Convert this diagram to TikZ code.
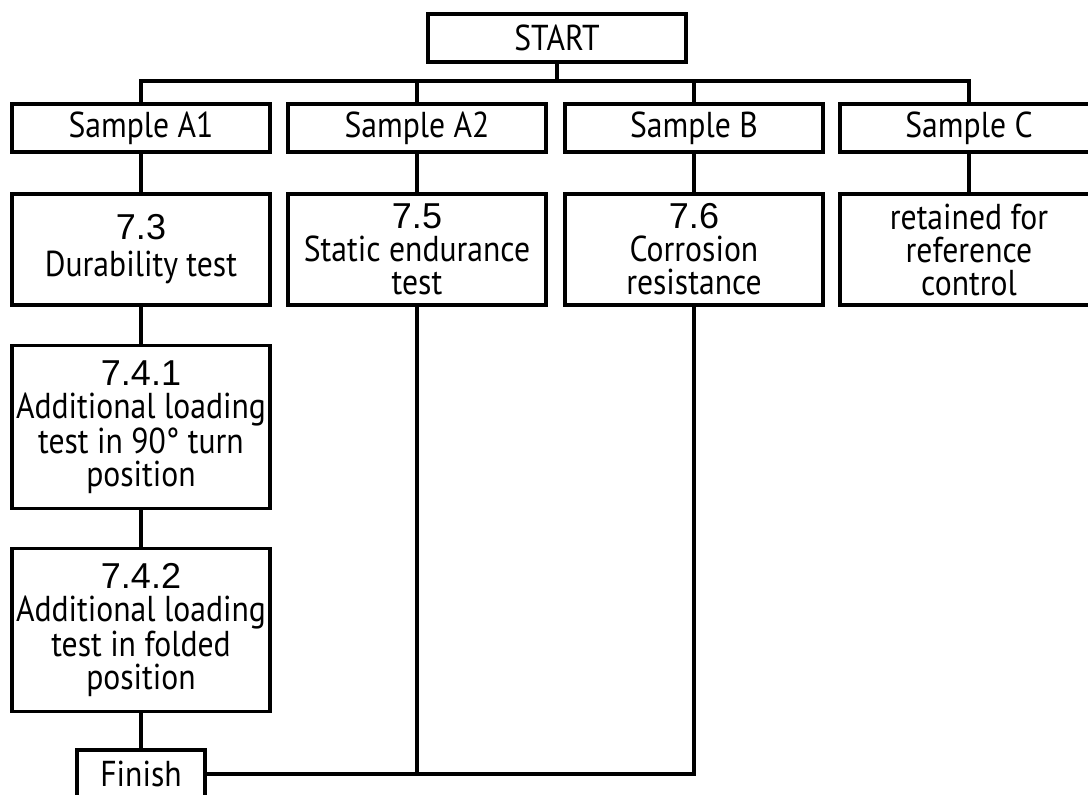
\documentclass[tikz,border=0pt]{standalone}
\usepackage{fontspec}
\setmainfont[FakeStretch=0.88]{PT Sans}
\newfontfamily\numfont{Liberation Sans}
\newcommand{\txtsize}{\fontsize{18}{16.5}\selectfont}
\newcommand{\nr}[1]{{\numfont\fontsize{18}{17}\selectfont #1}}

\begin{document}
\begin{tikzpicture}[x=0.5pt,y=-0.5pt,
  box/.style={draw,line width=1.7pt,inner sep=0pt,align=center,minimum width=129pt,font=\txtsize},
  row/.style={box,minimum height=24pt},
  testbox/.style={box,minimum height=55.5pt},
  longbox/.style={box,minimum height=81.5pt},
  link/.style={line width=1.6pt}]
 \clip (0,0) rectangle (1088,794);

 % top
 \node[row] (start) at (557,38) {START};
 \coordinate (bus) at (557,81);

 % samples
 \node[row] (sA1) at (141,128) {Sample A1};
 \node[row] (sA2) at (417,128) {Sample A2};
 \node[row] (sB)  at (694,128) {Sample B};
 \node[row] (sC)  at (969,128) {Sample C};

 % tests
 \node[testbox] (t73) at (141,249.5) {\nr{7.3}\\[2pt]Durability test};
 \node[testbox] (t75) at (417,249.5) {\nr{7.5}\\Static endurance\\test};
 \node[testbox] (t76) at (694,249.5) {\nr{7.6}\\Corrosion\\resistance};
 \node[testbox] (tC)  at (969,249.5) {retained for\\reference\\control};

 \node[longbox] (t741) at (141,427) {\nr{7.4.1}\\Additional loading\\test in 90° turn\\position};
 \node[longbox] (t742) at (141,630) {\nr{7.4.2}\\Additional loading\\test in folded\\position};

 \node[row,minimum width=64pt] (finish) at (141,774) {Finish};

 % connectors
 \draw[link] (start) -- (bus);
 \draw[link] (sA1.north) |- (bus) -| (sC.north);
 \draw[link] (sA2.north) -- (sA2.north |- bus);
 \draw[link] (sB.north) -- (sB.north |- bus);
 \foreach \s/\t in {sA1/t73,sA2/t75,sB/t76,sC/tC}
   \draw[link] (\s) -- (\t);
 \draw[link] (t73) -- (t741);
 \draw[link] (t741) -- (t742);
 \draw[link] (t742) -- (finish);
 \draw[link] (finish.east) -| (t76.south);
 \draw[link] (t75.south) -- (t75.south |- finish.east);
\end{tikzpicture}
\end{document}
